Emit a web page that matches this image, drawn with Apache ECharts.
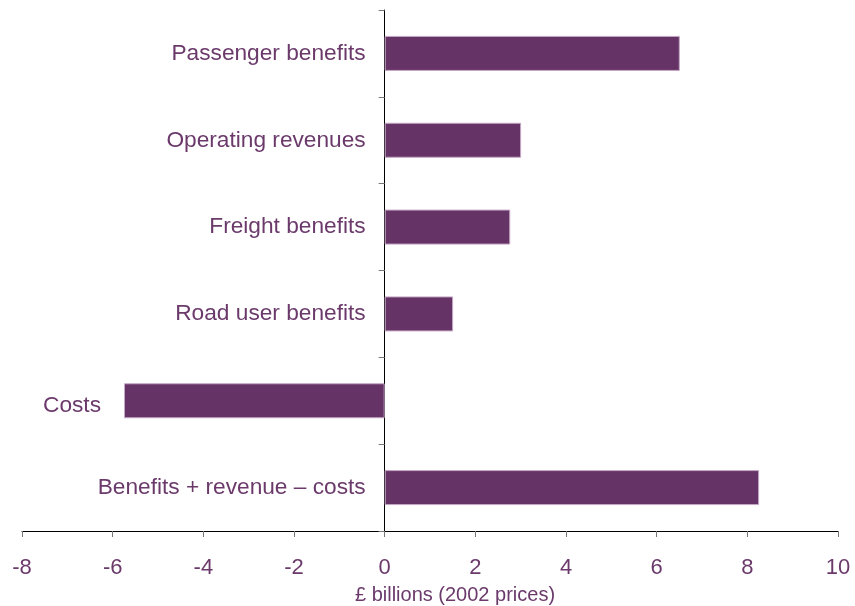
<!DOCTYPE html>
<html>
<head>
<meta charset="utf-8">
<script src="https://cdn.jsdelivr.net/npm/echarts@6/dist/echarts.min.js"></script>
<style>html,body{margin:0;padding:0;background:#fff;}#c{width:855px;height:606px;}</style>
</head>
<body>
<div id="c"></div>
<script>
const categories = ["Passenger benefits", "Operating revenues", "Freight benefits", "Road user benefits", "Costs", "Benefits + revenue \u2013 costs"];
const values = [6.51, 3.01, 2.77, 1.51, -5.75, 8.26];
const xTicks = [-8, -6, -4, -2, 0, 2, 4, 6, 8, 10];
const axisName = "\u00a3 billions (2002 prices)";

const textColor = '#6b3a6b';
const font = '"Liberation Sans", Arial, sans-serif';
const chart = echarts.init(document.getElementById('c'), null, {renderer: 'canvas'});
const seriesData = values.map(v => v < 0
  ? {value: v, label: {distance: 23, offset: [0, 5]}}
  : {value: v});
chart.setOption({
  animation: false,
  grid: {left: 22, right: 17, top: 10, bottom: 75, containLabel: false},
  xAxis: {
    type: 'value',
    min: xTicks[0], max: xTicks[xTicks.length - 1], interval: 2,
    splitLine: {show: false},
    axisLine: {show: true, lineStyle: {color: '#000', width: 1}},
    axisTick: {show: true, length: 6, lineStyle: {color: '#777'}},
    axisLabel: {color: textColor, fontSize: 22, fontFamily: font, margin: 26}
  },
  yAxis: {
    type: 'category',
    data: categories,
    inverse: true,
    axisLine: {show: true, onZero: true, lineStyle: {color: '#000', width: 1}},
    axisTick: {show: true, length: 6, inside: false, lineStyle: {color: '#777'}},
    axisLabel: {show: false},
    splitLine: {show: false}
  },
  graphic: [{
    type: 'text', x: 455, y: 595,
    style: {text: axisName, fill: textColor, font: '20px ' + font, textAlign: 'center', textVerticalAlign: 'middle'}
  }],
  series: [{
    type: 'bar',
    data: seriesData,
    barWidth: 35,
    itemStyle: {color: '#663366', borderColor: '#c4a8c4', borderWidth: 1},
    label: {
      show: true, position: 'left', distance: 19,
      formatter: p => p.name,
      color: textColor, fontSize: 22.7, fontFamily: font
    }
  }]
});
</script>
</body>
</html>
